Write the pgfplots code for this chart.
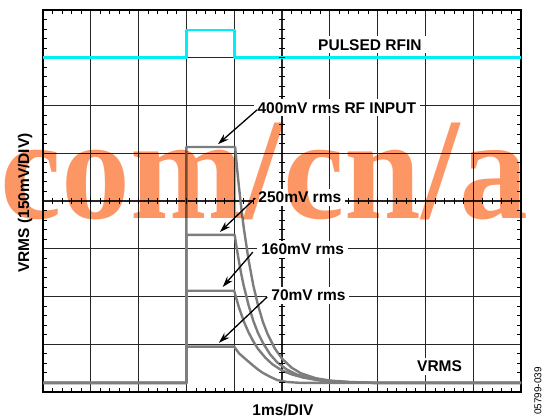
\documentclass[border=0pt]{standalone}
\usepackage{pgfplots}
\pgfplotsset{compat=1.18}
\usepackage{fontspec}
\setmainfont{Liberation Sans}
\newfontfamily\wmfont{Liberation Serif}
\usetikzlibrary{arrows.meta}
\definecolor{trace}{RGB}{125,125,125}
\definecolor{scopecyan}{RGB}{0,238,245}
\definecolor{wm}{RGB}{252,150,100}
\newcommand\lab{\fontsize{15.5bp}{18bp}\selectfont\bfseries}
\begin{document}
\begin{tikzpicture}
\path[use as bounding box] (-43bp,-26bp) rectangle (504bp,392bp);
\begin{axis}[at={(0,0)}, anchor=south west, scale only axis, width=478bp, height=382bp,
 xmin=0,xmax=10,ymin=0,ymax=8,
 xtick={0,...,10}, ytick={0,...,8}, minor x tick num=4, minor y tick num=4,
 xticklabels={}, yticklabels={},
 tick align=inside, major tick length=0pt, minor tick length=4bp,
 grid=major, major grid style={black!85, line width=1.1bp},
 axis line style={black, line width=1.8bp},
 tick style={black, line width=0.9bp},
 every axis plot/.append style={line join=round, no markers},
]
% pulsed RF input (cyan)
\addplot[scopecyan, line width=2.8bp] coordinates {(0,7.0) (3.0,7.0) (3.0,7.58) (4.0,7.58) (4.0,7.0) (10,7.0)};
% 400 mV rms
\addplot[trace, line width=2.4bp] coordinates {(0,0.19) (3.0,0.19) (3.0,5.13) (4.02,5.13) (4.06,4.69) (4.10,4.29) (4.15,3.84) (4.20,3.44) (4.30,2.77) (4.40,2.23) (4.50,1.81) (4.60,1.47) (4.70,1.21) (4.85,0.91) (5.00,0.70) (5.20,0.51) (5.40,0.39) (5.70,0.29) (6.00,0.24) (6.40,0.21) (7.00,0.19) (10,0.19)};
% 250 mV rms
\addplot[trace, line width=2.4bp] coordinates {(0,0.19) (3.0,0.19) (3.0,3.29) (4.01,3.29) (4.05,3.03) (4.10,2.73) (4.15,2.46) (4.20,2.22) (4.30,1.82) (4.40,1.49) (4.50,1.23) (4.60,1.03) (4.75,0.79) (4.90,0.62) (5.10,0.47) (5.30,0.37) (5.60,0.28) (6.00,0.23) (6.50,0.20) (7.00,0.19) (10,0.19)};
% 160 mV rms
\addplot[trace, line width=2.4bp] coordinates {(0,0.19) (3.0,0.19) (3.0,2.12) (4.00,2.12) (4.05,1.94) (4.10,1.77) (4.20,1.48) (4.30,1.25) (4.40,1.06) (4.50,0.90) (4.65,0.72) (4.80,0.58) (5.00,0.45) (5.20,0.37) (5.45,0.30) (5.80,0.24) (6.20,0.21) (7.00,0.19) (10,0.19)};
% 70 mV rms
\addplot[trace, line width=2.4bp] coordinates {(0,0.19) (3.0,0.19) (3.0,0.95) (4.00,0.95) (4.05,0.88) (4.10,0.81) (4.18,0.74) (4.26,0.67) (4.40,0.55) (4.50,0.47) (4.60,0.40) (4.75,0.32) (4.90,0.25) (5.10,0.21) (5.40,0.19) (10,0.19)};
% ticks on the centre lines
\pgfplotsinvokeforeach{0.2,0.4,...,9.8}{\draw[black, line width=0.9bp] (axis cs:#1,4) ++(0,-3bp) -- ++(0,6bp);}
\pgfplotsinvokeforeach{0.2,0.4,...,7.8}{\draw[black, line width=0.9bp] (axis cs:5,#1) ++(-3bp,0) -- ++(6bp,0);}
% labels
\tikzset{lbl/.style={anchor=base west, fill=white, inner xsep=4bp, inner ysep=3bp, font=\lab}}
\node[lbl] at (axis cs:5.67,7.16) {PULSED RFIN};
\node[lbl] at (axis cs:4.40,5.84) {400mV rms RF INPUT};
\node[lbl] at (axis cs:4.42,3.96) {250mV rms};
\node[lbl] at (axis cs:4.48,2.87) {160mV rms};
\node[lbl] at (axis cs:4.69,1.91) {70mV rms};
\node[lbl] at (axis cs:7.74,0.42) {VRMS};
\tikzset{arr/.style={-{Stealth[length=11bp,width=7bp]}, line width=1.3bp, black}}
\draw[arr] (axis cs:4.48,5.91) -- (axis cs:3.66,5.19);
\draw[arr] (axis cs:4.44,4.06) -- (axis cs:3.70,3.35);
\draw[arr] (axis cs:4.39,2.93) -- (axis cs:3.76,2.20);
\draw[arr] (axis cs:4.69,1.99) -- (axis cs:3.68,1.03);
\end{axis}
\node[rotate=90, font=\lab] at (-18bp,189bp) {VRMS (150mV/DIV)};
\node[font=\lab] at (240bp,-18bp) {1ms/DIV};
\node[rotate=90, font=\fontsize{10bp}{12bp}\selectfont] at (495bp,1bp) {05799-039};
\begin{scope}[blend mode=multiply]
\node[anchor=base west, inner sep=0pt, xscale=0.95, text=wm, font=\wmfont\bfseries\fontsize{145bp}{145bp}\selectfont] at (-43bp,173bp) {com/cn/a};
\end{scope}
\end{tikzpicture}
\end{document}
